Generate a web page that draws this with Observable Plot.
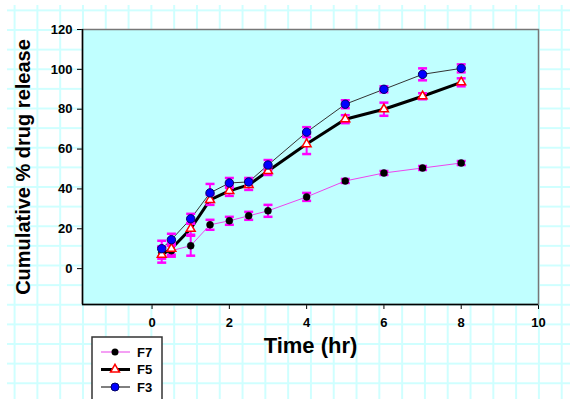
<!DOCTYPE html>
<html>
<head>
<meta charset="utf-8">
<script src="https://cdn.jsdelivr.net/npm/d3@7"></script>
<script src="https://cdn.jsdelivr.net/npm/@observablehq/plot@0.6"></script>
<style>
  html, body { margin: 0; padding: 0; background: #fff; }
  #wrap { position: relative; width: 570px; height: 399px; overflow: hidden; background: #fff; }
  #grid { position: absolute; left: 7px; top: 5px; right: 0; bottom: 0;
    background-image: linear-gradient(to right, #cfffff 2px, transparent 2px),
                      linear-gradient(to bottom, #cfffff 2px, transparent 2px);
    background-size: 22.8px 19.64px; background-position: 6.6px 4.4px; }
  #chart { position: absolute; left: 0; top: 0; }
  #legend { position: absolute; left: 0; top: 0; pointer-events: none; }
</style>
</head>
<body>
<div id="wrap"><div id="grid"></div><div id="chart"></div><svg id="legend" width="570" height="399"></svg></div>
<script>
// Data
const times = [0.25, 0.5, 1, 1.5, 2, 2.5, 3, 4, 5, 6, 7, 8];
const f7 = [8, 9, 11.5, 22, 24, 26.5, 29, 36, 44, 48, 50.5, 53];
const f7sd = [3, 3, 5, 2.5, 2, 2, 3, 2, 1, 1, 1, 1];
const f5 = [7, 10, 20, 34.5, 39, 42, 49, 62.5, 75, 80, 86.5, 93.5];
const f5sd = [4, 3, 3, 2.5, 2.5, 2.5, 2, 5, 2, 3.3, 1.5, 2];
const f3 = [10, 14.5, 25, 38, 43, 43.5, 52, 68.5, 82.5, 90, 97.5, 100.5];
const f3sd = [4, 3, 2.5, 4.5, 2.5, 2, 2.5, 2.5, 2, 1.5, 3, 2];
const seriesNames = ["F7", "F5", "F3"];
const xTicks = [0, 2, 4, 6, 8, 10];
const yTicks = [0, 20, 40, 60, 80, 100, 120];
const xDomain = [-1.8, 10];
const yDomain = [-18, 120];
const xTitle = "Time (hr)";
const yTitle = "Cumulative % drug release";

const mk = (name, vals, sds) => times.map((t, i) => ({series: name, t, v: vals[i], sd: sds[i]}));
const r7 = mk("F7", f7, f7sd), r5 = mk("F5", f5, f5sd), r3 = mk("F3", f3, f3sd);
const all = [...r7, ...r5, ...r3];

const capSymbol = { draw(ctx, size) { const r = Math.sqrt(size / Math.PI); ctx.moveTo(-r, 0); ctx.lineTo(r, 0); } };
const ERR = "#ff00ff";

const chart = Plot.plot({
  width: 570, height: 399,
  marginLeft: 82, marginRight: 32, marginTop: 29, marginBottom: 95,
  style: { background: "transparent", fontFamily: "'Liberation Sans', Arial, sans-serif", fontWeight: "bold", fontSize: "13px", color: "#000" },
  x: { domain: xDomain, ticks: xTicks, tickSize: 5, tickPadding: 8, label: null },
  y: { domain: yDomain, ticks: yTicks, tickSize: 5, tickPadding: 5, label: null },
  marks: [
    Plot.frame({ fill: "#c0ffff", stroke: "#777", strokeWidth: 1.5 }),
    Plot.ruleX([xDomain[0]], { stroke: "#000", strokeWidth: 1.5 }),
    Plot.ruleY([yDomain[0]], { stroke: "#000", strokeWidth: 1.5 }),
    Plot.line(r7, { x: "t", y: "v", stroke: "#ee44ee", strokeWidth: 1 }),
    Plot.line(r5, { x: "t", y: "v", stroke: "#000", strokeWidth: 3 }),
    Plot.line(r3, { x: "t", y: "v", stroke: "#333", strokeWidth: 1 }),
    Plot.ruleX(all, { x: "t", y1: d => d.v - d.sd, y2: d => d.v + d.sd, stroke: ERR, strokeWidth: 2 }),
    Plot.dot(all, { x: "t", y: d => d.v - d.sd, symbol: capSymbol, r: 4.5, stroke: ERR, strokeWidth: 2.5 }),
    Plot.dot(all, { x: "t", y: d => d.v + d.sd, symbol: capSymbol, r: 4.5, stroke: ERR, strokeWidth: 2.5 }),
    Plot.dot(r7, { x: "t", y: "v", r: 3.5, fill: "#000", stroke: "#000", strokeWidth: 0.5 }),
    Plot.dot(r5, { x: "t", y: "v", symbol: "triangle", r: 3.3, fill: "#fff", stroke: "#f00", strokeWidth: 1.5 }),
    Plot.dot(r3, { x: "t", y: "v", r: 4.2, fill: "#0000ff", stroke: "#000066", strokeWidth: 1 }),
    Plot.text([xTitle], { frameAnchor: "bottom", text: d => d, dy: 48, fontSize: 22, fontWeight: "bold", fill: "#000" }),
    Plot.text([yTitle], { frameAnchor: "left", text: d => d, textAnchor: "middle", dx: -59, rotate: -90, fontSize: 20, fontWeight: "bold", fill: "#000" })
  ]
});
document.getElementById("chart").appendChild(chart);

// Legend
const lg = d3.select("#legend");
lg.append("rect").attr("x", 92).attr("y", 337).attr("width", 70).attr("height", 80)
  .attr("fill", "#fff").attr("stroke", "#333").attr("stroke-width", 1.5);
const legendStyles = [
  { name: seriesNames[0], line: "#f080f0", lw: 1.5 },
  { name: seriesNames[1], line: "#000", lw: 3 },
  { name: seriesNames[2], line: "#000", lw: 1 }
];
legendStyles.forEach((s, i) => {
  const y = 352 + i * 17.5;
  lg.append("line").attr("x1", 101).attr("x2", 130).attr("y1", y).attr("y2", y)
    .attr("stroke", s.line).attr("stroke-width", s.lw);
  if (i === 0) lg.append("circle").attr("cx", 115).attr("cy", y).attr("r", 3.5).attr("fill", "#000");
  if (i === 1) lg.append("path").attr("d", d3.symbol(d3.symbolTriangle, 3.3 * 3.3 * Math.PI)())
    .attr("transform", `translate(115,${y})`).attr("fill", "#fff").attr("stroke", "#f00").attr("stroke-width", 1.5);
  if (i === 2) lg.append("circle").attr("cx", 115).attr("cy", y).attr("r", 4).attr("fill", "#0000ff").attr("stroke", "#000066");
  lg.append("text").attr("x", 137).attr("y", y).attr("dy", "0.35em").text(s.name)
    .attr("font-family", "'Liberation Sans', Arial, sans-serif").attr("font-weight", "bold").attr("font-size", 13);
});
</script>
</body>
</html>
